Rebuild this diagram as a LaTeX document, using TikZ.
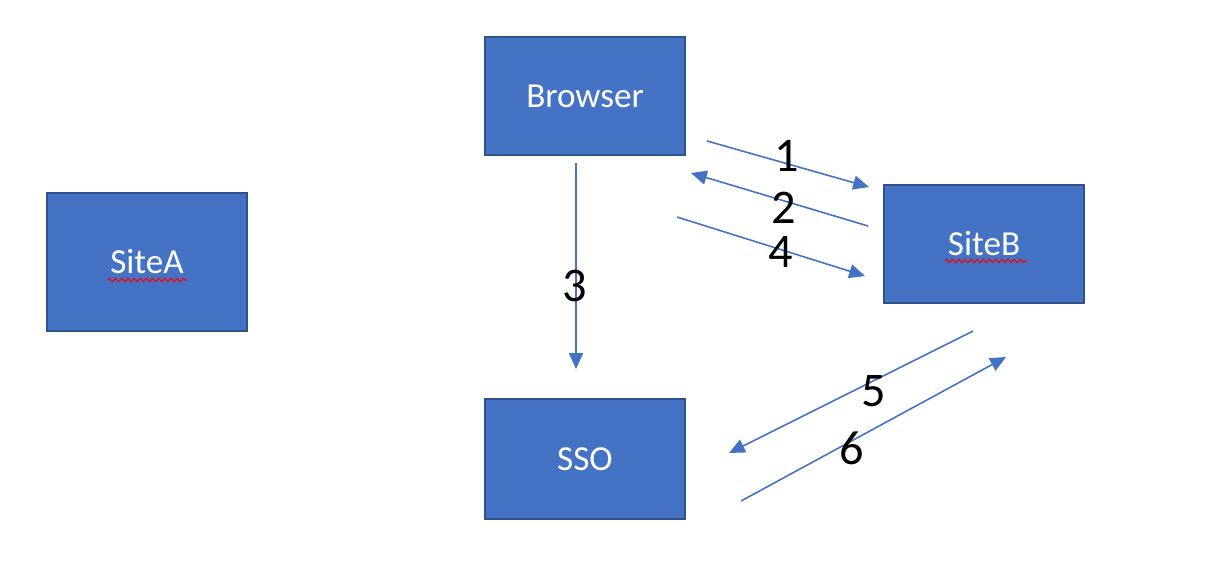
\documentclass[tikz,border=0pt]{standalone}
\usepackage{fontspec}
\setmainfont{Carlito}
\usetikzlibrary{arrows.meta,decorations.pathmorphing}
\definecolor{boxfill}{HTML}{4472C4}
\definecolor{boxline}{HTML}{2F528F}
\definecolor{arr}{HTML}{4472C4}
\begin{document}
\begin{tikzpicture}[x=0.02cm,y=-0.02cm,
  box/.style={draw=boxline,line width=1.2pt,fill=boxfill,minimum width=200*0.02cm,minimum height=118*0.02cm,inner sep=0pt,text=white,font=\fontsize{20}{24}\selectfont},
  flow/.style={draw=arr,line width=0.9pt,-{Triangle[length=9pt,width=8pt]}},
  num/.style={font=\fontsize{27.5}{32}\selectfont,text=black,inner sep=0pt},
  squig/.style={draw=red,line width=0.6pt,decorate,decoration={zigzag,segment length=3.5pt,amplitude=1pt}}]
\useasboundingbox (0,0) rectangle (1212,566);
\node[box] (browser) at (585,96) {Browser};
\node[box,minimum height=138*0.02cm] (sitea) at (147,262) {SiteA};
\node[box] (siteb) at (984,244) {SiteB};
\node[box,minimum height=120*0.02cm] (sso) at (585,459) {SSO};
% spell-check underlines
\coordinate (sqa1) at (108,280); \coordinate (sqa2) at (187,280);
\coordinate (sqb1) at (945,261); \coordinate (sqb2) at (1027,261);
\draw[squig] (sqa1) -- (sqa2);
\draw[squig] (sqb1) -- (sqb2);
% arrow end points
\coordinate (a1s) at (707,141); \coordinate (a1e) at (869,187);
\coordinate (a2s) at (868,226); \coordinate (a2e) at (691,173);
\coordinate (a4s) at (677,217); \coordinate (a4e) at (865,276);
\coordinate (a3s) at (576,163); \coordinate (a3e) at (576,369);
\coordinate (a5s) at (973,331); \coordinate (a5e) at (729,453);
\coordinate (a6s) at (741,501); \coordinate (a6e) at (1006,357);
\draw[flow] (a1s) -- (a1e);
\draw[flow] (a2s) -- (a2e);
\draw[flow] (a4s) -- (a4e);
\draw[flow] (a3s) -- (a3e);
\draw[flow] (a5s) -- (a5e);
\draw[flow] (a6s) -- (a6e);
\node[num] (n1) at (787,156) {1};
\node[num] (n2) at (784,208) {2};
\node[num] (n4) at (781,252) {4};
\node[num] (n3) at (575,286) {3};
\node[num] (n5) at (874,391) {5};
\node[num] (n6) at (852,448) {6};
\end{tikzpicture}
\end{document}
